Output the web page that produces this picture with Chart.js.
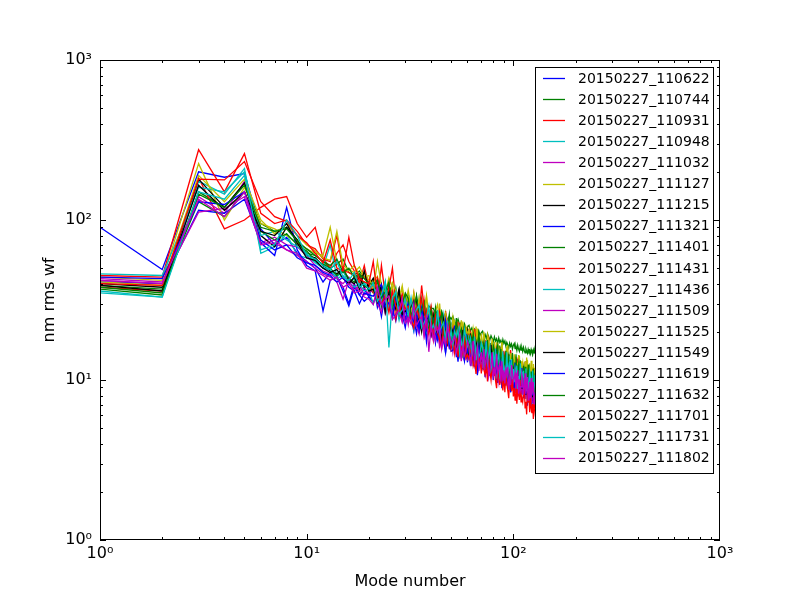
<!DOCTYPE html>
<html>
<head>
<meta charset="utf-8">
<script src="https://cdn.jsdelivr.net/npm/chart.js@4.4.0/dist/chart.umd.min.js"></script>
<style>
  html, body { margin: 0; padding: 0; background: #fff; }
  canvas { display: block; }
</style>
</head>
<body>
<canvas id="grafico" width="800" height="600"></canvas>
<script>
// rms wavefront (nm) per mode, one array per run, modes 1..128
const rms_110622 = [90,49,200,185,195,88,70,78,62,55,
  50,41,47,44,38,30,40,34,37,33, 40,28.4,33.8,28.8,37.7,27.9,23.4,30.8,27.1,23.5,
  23.4,29.3,24.2,19.5,25.8,28.2,21.4,19.1,24.8,22, 22.3,17.5,24.9,20,17.5,22,14.8,19.8,17.5,21.1,
  16.7,18.9,13.9,19.7,17.2,14.4,20.4,14.7,15.7,12.9, 17.4,15.3,12.8,17.7,13.2,14.1,15.7,11.4,16,12.8,
  16.2,11.6,14.1,12.1,16.4,12.4,10.6,14.1,12.6,11, 11.2,14,11.7,9.6,13,14.3,11,9.9,12.9,11.6,
  11.9,9.4,13.5,11,9.7,12.4,8.4,11.3,10.1,12.3, 9.8,11.1,8.3,11.7,10.3,8.7,12.4,8.9,9.7,8.1,
  10.8,9.6,8.1,11.2,8.4,9,10,7.3,10.4,8.4, 10.5,7.7,9.2,8,10.8,8.2,7.1,9.5];
const rms_110744 = [37,34,150,120,170,95,85,90,75,62,
  60,55,50,53,57,47,45,48,43,41, 41,36,38,34,39,35,32,35,33,30,
  34,31,29,32,30,28,31,27,29,28, 28,26,27,25,27,24,26,23.5,25,24,
  25,23,22.5,24,22,23,21,22.5,20.8,21.5, 22,20.3,21.2,19.6,20.8,20.1,19.2,20.4,19,19.8,
  20.2,18.7,19.3,18.1,19.5,18.6,17.8,18.9,18.2,17.4, 18.6,17.5,18.1,16.9,18.3,17.2,17.7,16.6,17.9,16.9,
  17.5,16.3,17.2,16.6,15.8,17,16.2,16.8,15.6,16.5, 16.9,15.7,16.2,15.3,16.5,15.6,15.1,16.2,15.4,15.9,
  15.1,16,15.3,14.8,15.7,15.2,14.7,15.6,15,15.3, 14.6,15.5,14.9,14.4,15.4,14.8,15.2,14.5];
const rms_110931 = [38,36,183,88,100,120,135,140,95,78,
  90,58,50,62,70,55,48,40,52,38, 38.9,30.2,52,34,29.4,36.5,24.2,32.3,28,33.9,
  26.6,29.9,22,30.7,26.8,22.2,31.3,22.3,23.8,19.5, 25.8,22.6,18.9,25.9,19.3,20.4,22.5,16.2,22.8,18.2,
  22.8,16.3,19.6,17,22.6,17.1,14.5,19.3,17.3,15, 15.1,19.1,15.9,13,17.3,19,14.5,13.1,17,15.3,
  15.6,12.3,17.8,14.4,12.7,16.1,10.9,14.7,13,15.9, 12.7,14.4,10.7,15.2,13.4,11.2,16,11.5,12.4,10.3,
  13.8,12.2,10.3,14.3,10.7,11.4,12.8,9.3,13.1,10.6, 13.3,9.6,11.7,10.1,13.5,10.4,8.9,11.8,10.6,9.2,
  9.4,12,10,8.2,10.9,12.1,9.3,8.4,11.1,10, 10.2,8.1,11.7,9.5,8.5,10.7,7.3,9.9];
const rms_110948 = [36,33,175,145,210,62,68,82,60,58,
  55,50,70,44,48,40,43,38,41,36, 41.4,36,29.8,40.5,29.7,31,33.8,24.4,33.6,27,
  33.4,23.8,28.5,24.4,32.2,24.2,20.5,27,24,20.7, 20.7,26,21.5,17.4,23.1,25.2,19.2,17.3,22.4,20,
  20.3,16,22.8,18.5,16.2,20.5,13.8,18.6,16.4,19.9, 15.8,17.9,13.3,18.8,16.5,13.7,19.5,14,15,12.5,
  16.7,14.7,12.4,17.1,12.9,13.7,15.3,11.1,15.6,12.6, 15.9,11.4,13.9,12.1,16.1,12.3,10.5,13.9,12.5,10.9,
  11.1,14,11.7,9.6,12.9,14.2,10.9,9.9,12.9,11.6, 11.9,9.4,13.5,11,9.7,12.4,8.4,11.3,10.1,12.3,
  9.8,11.2,8.3,11.8,10.4,8.8,12.5,9,9.8,8.1, 10.9,9.7,8.2,11.3,8.6,9.1,10.1,7.4];
const rms_111032 = [42,40,140,110,175,72,78,70,68,60,
  52,48,46,43,40,44,39,36,38,34, 30.3,33.5,35.9,25.9,29.2,37,26.5,29.8,23.6,31.9,
  26.8,28.9,21.4,22.9,29,25.6,18.6,22.1,25.6,19.7, 25,20,21.8,15.8,22.7,17.4,19.2,23.1,15.6,19.1,
  14.9,17.5,15.8,21.5,14.7,17.2,19.1,13.2,17.4,14.9, 14.5,17.6,12.2,16.5,14.5,13.2,17.3,12.2,14.1,15.7,
  12.2,13.7,15,11,12.6,16.2,12,13.5,10.9,14.9, 12.9,13.9,10.5,11.3,14.5,13,9.5,11.3,13.3,10.4,
  13.3,10.7,12,8.7,12.7,9.8,10.9,13.2,9,11.1, 8.7,10.3,9.4,12.8,8.8,10.4,11.6,8.1,10.7,9.2,
  9,11.1,7.7,10.4,9.1,8.5,11.1,7.8,9.2,10.2, 7.9,9,9.8,7.2,8.4,10.8,7.9,9];
const rms_111127 = [44,42,225,100,160,95,88,80,72,66,
  62,60,90,55,50,48,52,45,47,42, 41.5,44.4,32.7,34.8,43.6,38,27.3,32.6,37.4,28.7,
  36.4,29,31.6,22.8,32.6,25,27.5,32.9,22.2,27.2, 21,24.7,22.2,30,20.4,23.8,26.3,18.1,23.8,20.3,
  19.7,23.8,16.5,22.2,19.4,17.8,23.2,16.4,19,20.9, 16.3,18.3,19.8,14.6,16.7,21.6,15.8,17.7,14.4,19.5,
  16.7,18.1,13.7,14.7,18.8,16.7,12.3,14.8,17.4,13.5, 17.4,13.9,15.4,11.2,16.3,12.6,14.1,17,11.6,14.3,
  11.2,13.3,12.1,16.5,11.4,13.4,15,10.4,13.7,11.8, 11.5,14,9.8,13.2,11.6,10.8,14.2,10,11.7,13,
  10,11.4,12.4,9.2,10.5,13.8,10.1,11.4,9.4,12.7, 10.9,12,9,9.8,12.6,11.1,8.2,9.9];
const rms_111215 = [40,38,180,120,170,80,68,90,75,60,
  58,52,48,46,50,42,40,44,38,39, 43.3,34.2,37.1,26.5,37.6,28.5,31,37.2,24.8,30.5,
  23.5,27.4,24.7,33.1,22.6,26.3,29,19.8,25.9,22.1, 21.4,25.8,17.8,23.8,20.8,18.9,24.5,17.3,20,22,
  17,19,20.6,15.2,17.3,22.3,16.3,18.4,14.9,20.1, 17.1,18.6,13.9,15.1,19.2,17.1,12.5,14.9,17.5,13.5,
  17.4,14,15.5,11.2,16.3,12.5,14,17,11.5,14.3, 11.2,13.2,12,16.4,11.3,13.3,14.8,10.2,13.5,11.7,
  11.4,13.9,9.7,13.1,11.5,10.6,13.9,9.9,11.5,12.8, 9.9,11.2,12.2,9,10.4,13.5,9.9,11.2,9.1,12.4,
  10.6,11.6,8.8,9.5,12.1,10.9,8,9.6,11.4,8.8, 11.3,9.2,10.2,7.4,10.8,8.4,9.3,11.3];
const rms_111321 = [41,40,115,110,135,72,60,120,65,52,
  48,27,42,44,36,29,38,34,31,33, 30.6,34.2,24.9,34.7,29.9,24.5,34.1,24.4,25.7,21.2,
  27.9,24.4,20.2,27.7,20.6,21.7,24,17.3,24.1,19.3, 23.8,17.1,20.5,17.7,23.3,17.6,14.8,19.7,17.6,15.1,
  15.3,19.2,16,13,17.3,19,14.5,13.1,17,15.3, 15.5,12.3,17.6,14.3,12.5,15.8,10.7,14.4,12.7,15.4,
  12.3,13.9,10.4,14.7,13,10.8,15.4,11.1,12,10, 13.3,11.7,9.9,13.7,10.3,11.1,12.3,8.9,12.5,10.1,
  12.7,9.2,11.1,9.8,13,9.9,8.4,11.2,10.1,8.8, 8.9,11.4,9.5,7.8,10.4,11.5,8.8,8,10.4,9.4,
  9.7,7.7,11.1,9,7.9,10.1,6.9,9.2,8.3,10.1, 8,9.2,6.8,9.7,8.7,7.2,10.3,7.5];
const rms_111401 = [39,37,130,105,150,85,75,82,70,64,
  56,53,50,45,49,43,41,46,39,37, 35.1,41.8,28.6,37.8,32.7,29.3,37.6,26.4,30.1,33.2,
  25.4,28.3,30.4,22.1,25.2,32.2,23.5,26.3,21.1,28.3, 24,25.9,19.2,20.6,26.2,23.1,16.8,20.1,23.5,18,
  23,18.4,20.2,14.7,21.2,16.4,18.1,21.8,14.8,18.2, 14.2,16.7,15.2,20.6,14.2,16.6,18.4,12.7,16.7,14.4,
  14.1,17.1,11.9,16,14.2,13,17,12.1,14,15.6, 12.1,13.6,14.9,11,12.6,16.4,12.1,13.5,11,14.9,
  12.8,13.9,10.5,11.3,14.5,13,9.5,11.4,13.5,10.4, 13.5,10.8,12,8.7,12.7,9.9,11,13.3,9.1,11.2,
  8.8,10.5,9.6,13,9,10.6,11.8,8.2,10.9,9.4, 9.2,11.3,7.8,10.6,9.4,8.6,11.3,8.1];
const rms_111431 = [45,44,275,150,260,110,95,100,85,70,
  66,57,55,80,48,47,45,42,44,40, 35,43.5,35.7,28.6,37.5,50,30.3,27.2,34.7,31.1,
  31.2,24.4,34.8,27.8,24.3,30.6,20.5,27.2,23.9,28.9, 22.7,25.6,18.9,26.6,23.2,19.1,27,19.4,20.8,17.1,
  22.7,20,16.7,23.1,17.2,18.3,20.3,14.7,20.7,16.6, 20.8,15,18.1,15.6,20.8,15.8,13.4,17.8,16,13.9,
  14,17.7,14.8,12.1,16.2,17.8,13.7,12.4,16.1,14.6, 14.9,11.8,17,13.8,12.2,15.4,10.5,14,12.4,15.2,
  12.1,13.8,10.3,14.6,12.9,10.8,15.4,11.1,12,10, 13.3,11.8,9.9,13.8,10.3,11.1,12.3,9,12.7,10.2,
  12.9,9.4,11.3,9.8,13.1,10.1,8.6,11.4,10.4,9.1, 9.2,11.7,9.8,8,10.8,11.9,9.1,8.3];
const rms_111436 = [46,45,160,150,200,80,85,75,68,62,
  54,50,49,43,45,41,38,40,36,37, 29.8,34.6,30.9,41.3,27.8,31.9,34.9,24,30.9,26.4,
  25.6,30.7,21,28,24.4,22.2,28.9,20.2,23.3,25.5, 19.6,21.9,23.7,17.3,19.8,25.3,18.4,20.7,16.7,22.4,
  19.1,20.6,15.4,16.6,21.2,18.9,13.8,16.5,19.3,14.9, 19.1,15.3,16.9,12.2,17.7,13.6,15.1,18.2,12.3,15.3,
  12,14.2,12.9,17.5,12.1,14.1,15.8,10.9,14.4,12.4, 12.2,14.7,10.2,13.8,12.2,11.3,14.8,10.4,12.1,13.4,
  10.5,11.8,12.9,9.5,10.9,14.1,10.4,11.9,9.6,13.1, 11.2,12.2,9.2,10,12.7,11.4,8.4,10.1,11.8,9.2,
  11.8,9.6,10.6,7.7,11.2,8.7,9.7,11.7,8.1,10, 7.8,9.3,8.5,11.5,8,9.4,10.4,7.3];
const rms_111509 = [43,41,112,118,140,70,72,65,60,55,
  50,46,44,41,32,42,36,39,34,35, 36.6,30.1,26.5,35.2,30.3,25.9,33.5,26.7,22.9,28.2,
  22.2,30.1,24.4,21.7,19.4,26,23.4,20.8,25.5,18.9, 21.3,17.9,23.2,16.7,21,19.1,17,22.5,16.2,16.9,
  16.5,18.3,20,14.9,15.9,13.1,17.8,15.8,16.5,13.2, 17.2,14.3,13.3,15.2,12.1,16.6,13.9,12.2,15.1,13.6,
  14.7,12.3,11,15,13.2,11.4,15.1,12.1,10.6,13.2, 10.6,14.5,11.9,10.7,9.7,13.1,12,10.6,13.3,10,
  11.4,9.7,12.6,9.2,11.7,10.7,9.7,12.8,9.4,9.9, 9.7,10.8,11.9,8.8,9.5,7.9,10.9,9.6,10.1,8.2,
  10.7,9,8.4,9.6,7.6,10.6,8.9,7.8,9.8,8.9, 9.6,8.1,7.2,9.9,8.8,7.7,10.1,8.1];
const rms_111525 = [41,39,190,130,180,100,82,95,80,70,
  64,58,56,85,52,49,47,51,44,45, 36,55,39.2,34.7,30.7,40.5,36.1,32.1,38.9,28.9,
  32.7,27.3,35.3,25.2,31.7,28.9,25.8,33.7,24.2,25.2, 24.5,27.1,29.6,21.7,23.3,19,25.9,22.7,23.7,18.9,
  24.6,20.4,18.8,21.5,17.1,23.6,19.6,17.2,21.3,19.2, 20.7,17.3,15.5,20.8,18.3,15.9,21,16.7,14.6,18.1,
  14.5,20,16.4,14.7,13.3,17.9,16.3,14.7,18.1,13.5, 15.6,13.1,17.2,12.5,15.9,14.5,13.2,17.3,12.6,13.3,
  13.1,14.7,16.2,11.9,12.9,10.7,14.7,13,13.7,11, 14.5,12,11.2,12.8,10.2,14.3,12,10.6,13.1,11.9,
  12.8,10.8,9.7,13.1,11.5,10.2,13.4,10.8,9.5,11.9, 9.5,13.2,10.8,9.6,8.8,11.9,10.8,9.8];
const rms_111549 = [39,36,165,115,150,85,80,95,72,58,
  56,50,47,49,43,40,44,37,48,36, 37,30.7,39.4,28.1,34.9,31.3,27.7,36.4,25.7,27,
  26.1,28.8,31.3,22.9,24.4,20,27.2,23.8,24.7,19.6, 25.4,21,19.4,21.9,17.5,23.9,19.8,17.3,21.3,19.2,
  20.6,17.1,15.2,20.6,18.1,15.8,20.6,16.5,14.4,17.8, 14.2,19.5,15.9,14.3,12.9,17.3,15.7,14,17.3,13,
  14.9,12.6,16.5,11.9,15.2,13.8,12.5,16.6,12,12.7, 12.4,13.8,15.2,11.3,12.2,10.1,13.9,12.2,12.8,10.3,
  13.6,11.3,10.5,12.1,9.7,13.3,11.2,9.9,12.3,11.2, 12.1,10.1,9.1,12.3,10.8,9.5,12.6,10.1,8.9,11,
  8.8,12.2,10,9,8.1,11.1,10.1,9,11.3,8.5, 9.7,8.3,10.8,7.8,10,9.2,8.3,11.1];
const rms_111619 = [44,43,130,125,150,75,65,70,58,54,
  52,47,45,41,44,38,36,30,35,34, 33.4,36.6,39.6,28.7,30.5,24.6,33,29,29.7,23.7,
  30.7,25.2,23.1,26.2,20.7,28.3,23.6,20.5,25.1,22.5, 24.1,20,17.7,23.8,20.7,18,23.5,18.7,16.3,20.1,
  15.9,21.9,17.8,16,14.4,19.3,17.5,15.6,19.4,14.4, 16.5,13.9,18.1,13.1,16.6,15.2,13.6,18,13,13.7,
  13.5,15,16.5,12.2,13.2,10.9,14.9,13.2,13.8,11.1, 14.6,12.1,11.3,12.9,10.4,14.4,12.1,10.6,13.1,11.9,
  12.9,10.8,9.7,13.1,11.5,10.1,13.3,10.7,9.4,11.7, 9.3,12.8,10.5,9.6,8.6,11.8,10.7,9.6,11.9,8.9,
  10.2,8.7,11.4,8.2,10.5,9.7,8.7,11.6,8.5,8.9, 8.7,9.8,10.8,8,8.7,7.2,9.9,8.8];
const rms_111632 = [38,35,145,120,165,90,85,88,74,66,
  60,55,52,57,47,50,44,46,43,40, 39.6,42,32.6,35.6,41,28.5,34.2,29.1,30,35,
  32.4,25.3,27.8,33.7,24.8,27.5,30.5,21.8,23.6,27.4, 21.7,28.3,22.1,24,25.7,18.5,19.8,21.5,25.7,18.1,
  19.7,18.1,24.4,18,19.5,20.8,16,21.6,16.1,18.5, 15.3,18.7,17.4,19.3,13.8,16.2,14.7,19.4,17.2,15.1,
  16,17.2,13.6,15.1,17.8,12.5,15.4,13.2,13.9,16.4, 15.4,12.1,13.6,16.7,12.4,14,15.6,11.3,12.4,14.4,
  11.6,15.2,12,13.2,14.2,10.4,11.3,12.3,14.8,10.5, 11.5,10.7,14.5,10.8,11.7,12.6,9.7,13.1,9.9,11.4,
  9.5,11.7,10.9,12.1,8.7,10.4,9.4,12.5,11.2,9.9, 10.4,11.3,9,10,11.8,8.4,10.3,8.9];
const rms_111701 = [40,39,180,178,232,130,105,98,80,72,
  62,54,75,50,48,78,52,43,41,40, 55,32.8,30,33.6,26.4,35.6,29.2,25.5,30.8,27.9,
  28.9,24,21.2,28.3,24.7,39,28,22.1,19.2,23.7, 18,24.6,20,17.8,16,21.4,19.2,17.2,21.2,15.7,
  17.5,14.7,19.1,13.9,17.4,16,14.4,18.9,13.7,14.4, 13.6,15.1,16.5,12.3,13.2,10.9,14.9,13.1,13.7,11,
  13.9,11.6,10.8,12.3,9.8,13.6,11.4,10,12.3,11.3, 11.9,9.9,8.9,12.1,10.6,9.3,12.2,9.8,8.6,10.7,
  8.4,11.5,9.4,8.6,7.7,10.4,9.5,8.5,10.6,7.9, 8.9,7.5,9.7,7.1,9,8.4,7.5,10,7.3,7.7,
  7.3,8.2,9,6.7,7.3,6.1,8.3,7.3,7.7,6.3, 8,6.7,6.2,7.1,5.7,8,6.6,5.9];
const rms_111731 = [35,33,150,135,190,65,70,100,80,60,
  57,52,49,55,44,42,47,38,40,37, 40,31,34,40.8,16,32.6,35.7,25.6,27.4,31.9,
  25.2,32.7,25.5,27.6,29.4,21.2,22.8,24.5,29,20.4, 22.1,20.3,27.3,20.1,21.6,22.9,17.5,23.5,17.6,20.2,
  16.6,20.1,18.7,20.7,14.7,17.5,15.8,20.8,18.5,16.2, 17,18.3,14.4,16,18.7,13.3,16.2,13.9,14.6,17.1,
  16.1,12.6,14.2,17.3,12.9,14.4,16.1,11.7,12.7,15, 12,15.7,12.4,13.6,14.7,10.7,11.6,12.6,15.1,10.8,
  11.8,11,14.9,11,12,12.9,9.9,13.5,10.1,11.7, 9.7,11.9,11.1,12.3,8.8,10.6,9.6,12.7,11.3,10,
  10.5,11.4,9.1,10.1,11.8,8.5,10.4,8.9,9.5,11.2, 10.5,8.3,9.3,11.4,8.6,9.6,10.7,7.8];
const rms_111802 = [42,40,135,105,150,70,75,65,62,50,
  48,45,42,44,38,40,35,36,33,32, 29.6,38.2,29.6,31.8,33.6,23.9,25.4,27.5,32.2,22.7,
  24.5,22.4,30,22,23.6,25.1,19.1,25.6,15,21.8, 17.8,21.5,20,22,15.6,18.3,16.5,21.8,19.3,16.7,
  17.6,18.8,14.8,16.5,19.2,13.6,16.5,14.2,15,17.4, 16.3,12.8,14.4,17.5,13,14.5,16.1,11.7,12.7,14.9,
  11.9,15.6,12.3,13.5,14.6,10.5,11.5,12.5,14.9,10.6, 11.7,10.8,14.6,10.9,11.8,12.6,9.8,13.1,9.9,11.5,
  9.5,11.7,10.9,12.1,8.7,10.3,9.3,12.4,11.1,9.8, 10.3,11.1,8.8,9.8,11.5,8.2,10.1,8.6,9.1,10.8,
  10.2,8.1,9,11,8.2,9.3,10.4,7.5,8.3,9.7, 7.7,10.3,8.1,8.9,9.7,7.1,7.6,8.4];

const runs = ['20150227_110622', '20150227_110744', '20150227_110931', '20150227_110948',
  '20150227_111032', '20150227_111127', '20150227_111215', '20150227_111321',
  '20150227_111401', '20150227_111431', '20150227_111436', '20150227_111509',
  '20150227_111525', '20150227_111549', '20150227_111619', '20150227_111632',
  '20150227_111701', '20150227_111731', '20150227_111802'];
const series = [rms_110622, rms_110744, rms_110931, rms_110948, rms_111032, rms_111127,
  rms_111215, rms_111321, rms_111401, rms_111431, rms_111436, rms_111509, rms_111525,
  rms_111549, rms_111619, rms_111632, rms_111701, rms_111731, rms_111802];
// matplotlib classic colour cycle b g r c m y k
const cycle = ['#0000ff', '#008000', '#ff0000', '#00bfbf', '#bf00bf', '#bfbf00', '#000000'];
const modes = Array.from({ length: 128 }, (_, i) => i + 1);
const decades = [1, 10, 100, 1000];
const decadeLabels = ['10⁰', '10¹', '10²', '10³'];

const fonte = 'DejaVu Sans';
const lineW = 1.3;

// frame, inward ticks and the legend box drawn inside the plot
const frameAndLegend = {
  id: 'frameAndLegend',
  afterDatasetsDraw(chart) {
    const { ctx, chartArea: a, scales } = chart;
    ctx.save();
    ctx.strokeStyle = '#000';
    ctx.lineWidth = 1;
    ctx.strokeRect(a.left + 0.5, a.top + 0.5, a.right - a.left - 1, a.bottom - a.top - 1);

    ctx.beginPath();
    decades.slice(0, 3).forEach(d => {
      for (let k = 1; k <= 9; k++) {
        const len = k === 1 ? 6 : 3;
        const px = Math.round(scales.x.getPixelForValue(d * k)) + 0.5;
        const py = Math.round(scales.y.getPixelForValue(d * k)) + 0.5;
        ctx.moveTo(px, a.bottom); ctx.lineTo(px, a.bottom - len);
        ctx.moveTo(px, a.top); ctx.lineTo(px, a.top + len);
        ctx.moveTo(a.left, py); ctx.lineTo(a.left + len, py);
        ctx.moveTo(a.right, py); ctx.lineTo(a.right - len, py);
      }
    });
    ctx.stroke();

    const boxX = a.right - 185, boxY = a.top + 7, boxW = 178, rowH = 21.1;
    const boxH = chart.data.datasets.length * rowH + 5;
    ctx.fillStyle = '#fff';
    ctx.fillRect(boxX, boxY, boxW, boxH);
    ctx.strokeRect(boxX + 0.5, boxY + 0.5, boxW, Math.round(boxH));
    ctx.font = '14px "' + fonte + '"';
    ctx.textBaseline = 'middle';
    chart.data.datasets.forEach((ds, i) => {
      const yy = boxY + 11 + i * rowH;
      ctx.strokeStyle = ds.borderColor;
      ctx.lineWidth = lineW;
      ctx.beginPath();
      ctx.moveTo(boxX + 8, Math.round(yy) + 0.5);
      ctx.lineTo(boxX + 30, Math.round(yy) + 0.5);
      ctx.stroke();
      ctx.fillStyle = '#000';
      ctx.fillText(ds.label, boxX + 43, yy + 1);
    });
    ctx.restore();
  }
};

function decadeAxis(titulo, isX) {
  return {
    type: 'logarithmic',
    min: 1,
    max: 1000,
    afterBuildTicks: scale => { scale.ticks = decades.map(v => ({ value: v })); },
    afterFit: scale => { if (isX) scale.height = 60; else scale.width = 100; },
    grid: { display: false, drawTicks: false },
    border: { display: false },
    ticks: {
      autoSkip: false,
      maxRotation: 0,
      padding: isX ? 4 : 8,
      color: '#000',
      font: { family: fonte, size: 16 },
      callback: (v, i) => decadeLabels[i]
    },
    title: {
      display: true,
      text: titulo,
      color: '#000',
      font: { family: fonte, size: 16 },
      padding: isX ? { top: 0, bottom: 9 } : { top: 40, bottom: 0 }
    }
  };
}

new Chart(document.getElementById('grafico').getContext('2d'), {
  type: 'line',
  data: {
    datasets: runs.map((nome, i) => ({
      label: nome,
      data: modes.map((m, j) => ({ x: m, y: series[i][j] })),
      borderColor: cycle[i % cycle.length],
      borderWidth: lineW,
      pointRadius: 0,
      fill: false,
      tension: 0,
      order: runs.length - i
    }))
  },
  options: {
    responsive: false,
    animation: false,
    devicePixelRatio: 1,
    layout: { padding: { top: 60, right: 80, left: 0, bottom: 0 } },
    plugins: { legend: { display: false }, tooltip: { enabled: false } },
    scales: {
      x: decadeAxis('Mode number', true),
      y: decadeAxis('nm rms wf', false)
    }
  },
  plugins: [frameAndLegend]
});
</script>
</body>
</html>
